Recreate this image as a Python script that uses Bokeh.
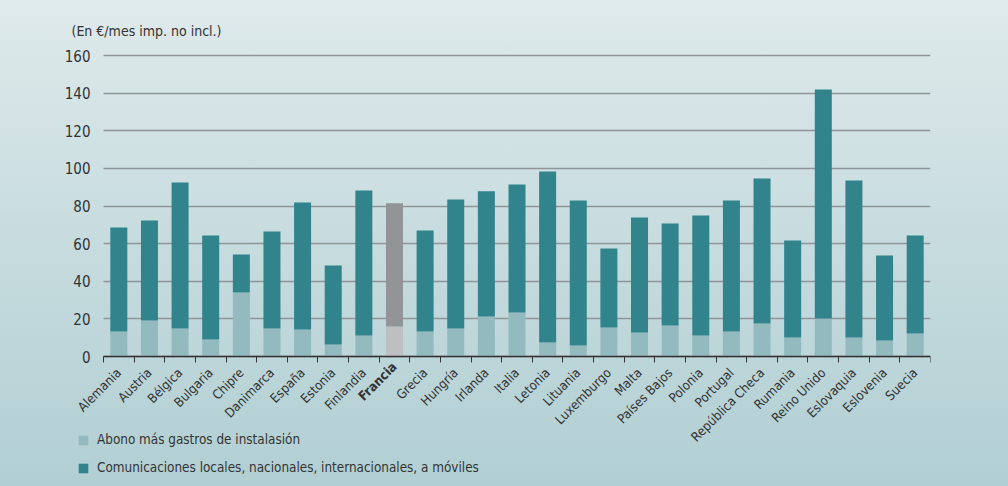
import math
import numpy as np
from bokeh.plotting import figure
from bokeh.models import ColumnDataSource, FixedTicker, Legend, LegendItem, Label, Range1d
from bokeh.embed import file_html
from bokeh.resources import INLINE

paises = ["Alemania", "Austria", "Bélgica", "Bulgaria", "Chipre", "Danimarca", "España",
          "Estonia", "Finlandia", "Francia", "Grecia", "Hungría", "Irlanda", "Italia",
          "Letonia", "Lituania", "Luxemburgo", "Malta", "Países Bajos", "Polonia",
          "Portugal", "República Checa", "Rumania", "Reino Unido", "Eslovaquia",
          "Eslovenia", "Suecia"]
abono = [13.3, 19.1, 14.9, 9.0, 34.0, 14.9, 14.4, 6.4, 11.2, 16.0, 13.3, 14.9, 21.3, 23.4,
         7.4, 5.8, 15.4, 12.8, 16.5, 11.2, 13.3, 17.5, 10.1, 20.2, 10.1, 8.5, 12.2]
comunicaciones = [55.3, 53.2, 77.6, 55.3, 20.2, 51.6, 67.5, 42.0, 77.1, 65.4, 53.7, 68.6,
                  66.5, 68.0, 91.0, 77.1, 42.0, 61.1, 54.2, 63.7, 69.6, 77.1, 51.6, 121.7,
                  83.5, 45.2, 52.1]
y_ticks = [0, 20, 40, 60, 80, 100, 120, 140, 160]
destacado = "Francia"
unidad = "(En €/mes imp. no incl.)"
serie_abono = "Abono más gastros de instalasión"
serie_com = "Comunicaciones locales, nacionales, internacionales, a móviles"

FONT = "DejaVu Sans Condensed"
TXT = "#333333"

# layout (pixels)
W, H = 1008, 486
LEFT, RIGHT, TOP, ZERO = 103, 930, 55, 356   # axis positions inside the figure

n = len(paises)
ymax = y_ticks[-1]
ppu = (ZERO - TOP) / ymax                     # pixels per value unit
y_start = -(H - ZERO) / ppu
y_end = ymax + TOP / ppu
x_start = -LEFT * n / (RIGHT - LEFT)

xs = np.arange(n) + 0.5
total = np.array(abono) + np.array(comunicaciones)
src = ColumnDataSource(dict(
    x=xs, abono=abono, total=total,
    cl=["#bdbfc1" if c == destacado else "#93babf" for c in paises],
    cd=["#929497" if c == destacado else "#31838c" for c in paises],
))

p = figure(width=W, height=H, output_backend="svg", toolbar_location=None,
           x_range=Range1d(x_start, n), y_range=Range1d(y_start, y_end),
           min_border_left=0, min_border_right=W - RIGHT, min_border_top=0, min_border_bottom=0)
p.background_fill_alpha = 0
p.border_fill_alpha = 0
p.outline_line_color = None
p.styles = {"background": "linear-gradient(to bottom, #dfeaeb 0%, #c9dde0 45%, #b1cfd3 100%)"}

r1 = p.vbar(x="x", bottom=0, top="abono", width=0.555, fill_color="cl", line_color=None, source=src)
r2 = p.vbar(x="x", bottom="abono", top="total", width=0.555, fill_color="cd", line_color=None, source=src)

p.xgrid.visible = False
yg = p.ygrid[0]
yg.grid_line_color = "#8f9598"
yg.grid_line_width = 1.6
yg.ticker = FixedTicker(ticks=y_ticks)
if "cross_bounds" in yg.properties():
    yg.cross_bounds = (0, n)
else:
    yg.visible = False
    p.segment(x0=0, x1=n, y0=y_ticks, y1=y_ticks, line_color="#8f9598", line_width=1.6)

ya = p.yaxis[0]
ya.fixed_location = 0
ya.bounds = (0, ymax)
ya.ticker = FixedTicker(ticks=y_ticks)
ya.axis_line_color = None
ya.major_tick_line_color = None
ya.minor_tick_line_color = None
ya.major_label_standoff = 7
ya.major_label_text_font = FONT
ya.major_label_text_font_size = "15px"
ya.major_label_text_color = TXT

xa = p.xaxis[0]
xa.fixed_location = 0
xa.bounds = (0, n)
xa.ticker = FixedTicker(ticks=list(xs), minor_ticks=list(range(n + 1)))
xa.major_tick_line_color = None
xa.minor_tick_line_color = TXT
xa.minor_tick_out = 6
xa.minor_tick_in = 0
xa.axis_line_color = TXT
xa.axis_line_width = 1.5
xa.major_label_orientation = math.pi / 4
xa.major_label_standoff = 8
xa.major_label_text_font = FONT
xa.major_label_text_font_size = "13px"
xa.major_label_text_color = TXT
xa.major_label_overrides = {float(x): ("" if c == destacado else c) for x, c in zip(xs, paises)}

i_fr = paises.index(destacado)
p.add_layout(Label(x=float(xs[i_fr]), y=0, text=destacado, angle=math.pi / 4,
                   text_align="right", text_baseline="middle", y_offset=-8,
                   text_font=FONT, text_font_size="13px", text_font_style="bold",
                   text_color=TXT))

p.add_layout(Label(x=0, y=ymax, x_offset=-32, y_offset=25, text=unidad,
                   text_align="left", text_baseline="middle",
                   text_font=FONT, text_font_size="14px", text_color=TXT))

legend = Legend(items=[LegendItem(label=serie_abono, renderers=[r1], index=0),
                       LegendItem(label=serie_com, renderers=[r2], index=0)],
                location=(77, 11), background_fill_alpha=0, border_line_color=None,
                padding=0, margin=0, glyph_width=12, glyph_height=12, label_height=12,
                label_standoff=8, spacing=13, label_text_font=FONT,
                label_text_font_size="13.4px", label_text_color=TXT)
p.add_layout(legend)

open("out.html", "w").write(file_html(p, INLINE))
